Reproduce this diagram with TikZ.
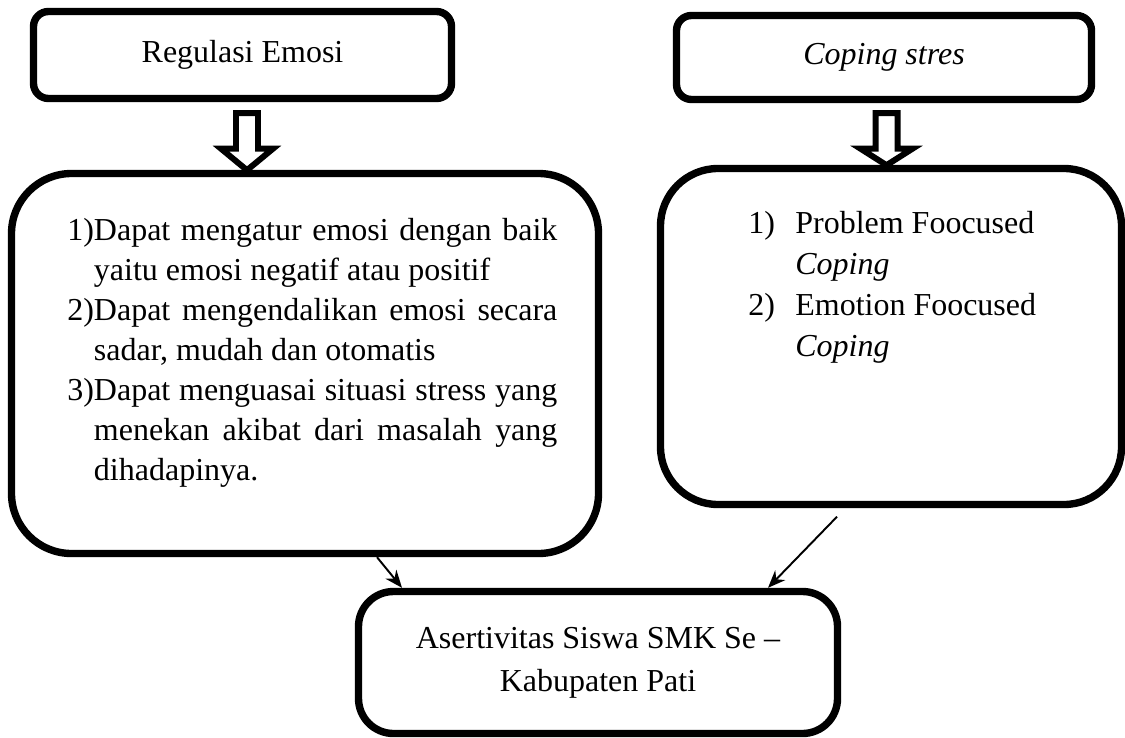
\documentclass[tikz,border=0pt]{standalone}
\usepackage{fontspec}
\setmainfont{Liberation Serif}
\usepackage{tikz}
\usetikzlibrary{arrows.meta}

\newcommand\hangitem{\hangindent=.833em\hangafter=1\relax}

\tikzset{
  smallbox/.style={draw, line width=4.2pt, rounded corners=0.3cm, inner sep=0pt, align=center},
  bigbox/.style={draw, line width=4.2pt, rounded corners=1.2cm, inner sep=0pt},
  hollow/.style={draw, line width=3.4pt, line join=miter},
  flow/.style={-{Stealth[length=10pt,width=8pt]}, line width=1.1pt}
}

\begin{document}
\begin{tikzpicture}[font=\fontsize{18.2}{23.3}\selectfont]
    \useasboundingbox (0,0) rectangle (22.5,-14.76);
    \node[smallbox, minimum width=8.36cm, minimum height=1.74cm] (emohead) at (4.85,-1.10) {Regulasi Emosi};
    \node[smallbox, minimum width=8.3cm, minimum height=1.68cm] (cophead) at (17.68,-1.15) {\textit{Coping stres}};
    \node[bigbox, minimum width=11.74cm, minimum height=7.6cm] (emobox) at (6.10,-7.27) {};
    \node[bigbox, rounded corners=1.15cm, minimum width=9.22cm, minimum height=6.72cm] (copbox) at (17.82,-6.73) {};
    \node[smallbox, rounded corners=0.7cm, minimum width=9.58cm, minimum height=2.84cm,
      font=\fontsize{18.2}{24.5}\selectfont] (asrbox) at (11.96,-13.25)
      {Asertivitas Siswa SMK Se --\\Kabupaten Pati};

    \node[anchor=north west, text width=9.8cm, align=justify, inner sep=0pt,
      font=\fontsize{18.2}{22.8}\selectfont] (emolist) at (1.34,-4.36) {\hyphenpenalty=10000
      \hangitem 1)Dapat mengatur emosi dengan baik yaitu emosi negatif atau positif\par
      \hangitem 2)Dapat mengendalikan emosi secara sadar, mudah dan otomatis\par
      \hangitem 3)Dapat menguasai situasi stress yang menekan akibat dari masalah yang dihadapinya.\par};
    \node[anchor=north west, align=left, inner sep=0pt] (coplist) at (14.96,-4.22) {%
      \makebox[0.94cm][l]{1)}Problem Foocused\\
      \hspace*{0.94cm}\textit{Coping}\\
      \makebox[0.94cm][l]{2)}Emotion Foocused\\
      \hspace*{0.94cm}\textit{Coping}};

    \draw[hollow] ([xshift=-0.13cm,yshift=-0.22cm]emohead.south) -- ++(0,-0.71) -- ++(-0.3,0)
      -- ++(0.52,-0.43) -- ++(0.52,0.43) -- ++(-0.3,0) -- ++(0,0.71) -- cycle;
    \draw[hollow] ([xshift=-0.17cm,yshift=-0.2cm]cophead.south) -- ++(0,-0.71) -- ++(-0.3,0)
      -- ++(0.52,-0.33) -- ++(0.52,0.33) -- ++(-0.3,0) -- ++(0,0.71) -- cycle;

    \draw[flow] ([xshift=1.44cm]emobox.south) -- ([xshift=-3.92cm]asrbox.north);
    \draw[flow] ([xshift=-1.08cm,yshift=-0.17cm]copbox.south) -- ([xshift=3.4cm]asrbox.north);
\end{tikzpicture}
\end{document}
